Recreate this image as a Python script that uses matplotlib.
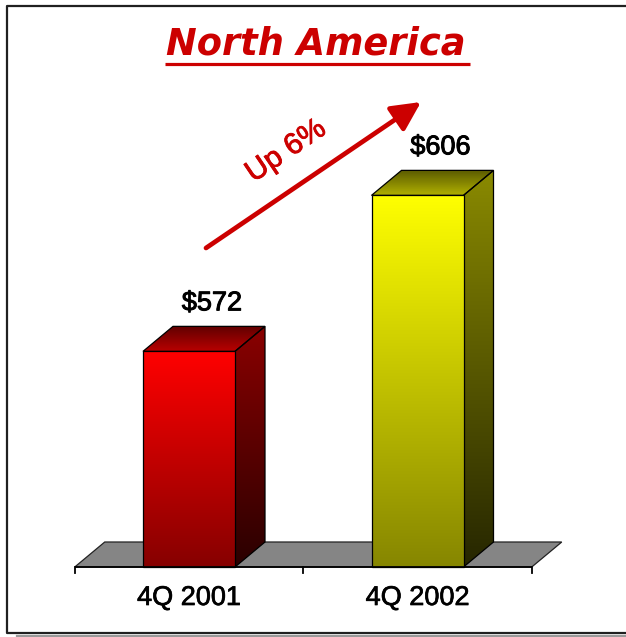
import numpy as np
import matplotlib.pyplot as plt
import matplotlib.patheffects as pe
from matplotlib.patches import Polygon
from matplotlib.colors import LinearSegmentedColormap

categories = ["4Q 2001", "4Q 2002"]
values = [572, 606]
value_labels = ["$572", "$606"]
growth_label = "Up 6%"
title = "North America"

# colours per bar: front (top, bottom), side (top, bottom), top face (front, back)
front_cols = [("#ff0000", "#860000"), ("#ffff00", "#868600")]
side_cols = [("#8a0000", "#2a0000"), ("#8a8a00", "#262600")]
top_cols = [("#b80000", "#600000"), ("#b0b000", "#5a5a00")]

baseline = 525  # value axis does not start at zero
W, H = 626, 637

fig = plt.figure(figsize=(W / 100, H / 100), dpi=100)
ax = fig.add_axes([0, 0, 1, 1])

# pixel <-> data mapping of the original picture
x_px0, x_step = 189, 228.5
y_px0, y_scale = 567, 4.588


def to_data(px, py):
    return (px - x_px0) / x_step, baseline + (y_px0 - py) / y_scale


xa, ya = to_data(0, 0)
xb, yb = to_data(W, H)
ax.set_xlim(xa, xb)
ax.set_ylim(yb, ya)
ax.axis("off")

bar_w = 92 / x_step
dx = 30 / x_step
dy = 25 / y_scale
heavy = [pe.withStroke(linewidth=0.7, foreground="black")]


def grad_poly(verts, c_low, c_high, z):
    # vertical gradient clipped to a polygon
    poly = Polygon(verts, closed=True, facecolor="none", edgecolor="black", lw=0.9, zorder=z + 1)
    ax.add_patch(poly)
    xs = [v[0] for v in verts]
    ys = [v[1] for v in verts]
    cmap = LinearSegmentedColormap.from_list("g", [c_low, c_high])
    im = ax.imshow(np.linspace(0, 1, 256).reshape(-1, 1), cmap=cmap, origin="lower",
                   extent=(min(xs), max(xs), min(ys), max(ys)), aspect="auto",
                   interpolation="bilinear", zorder=z)
    im.set_clip_path(poly)


n = len(categories)
xpos = np.arange(n)

# floor
left, right = -0.5, n - 0.5
floor = Polygon([(left, baseline), (right, baseline), (right + dx, baseline + dy), (left + dx, baseline + dy)],
                closed=True, facecolor="#858585", edgecolor="#222222", lw=0.9, zorder=1)
ax.add_patch(floor)

for i, v in enumerate(values):
    x0 = xpos[i] - bar_w / 2
    x1 = xpos[i] + bar_w / 2
    # side
    grad_poly([(x1, baseline), (x1 + dx, baseline + dy), (x1 + dx, v + dy), (x1, v)],
              side_cols[i][1], side_cols[i][0], 3)
    # top
    grad_poly([(x0, v), (x1, v), (x1 + dx, v + dy), (x0 + dx, v + dy)],
              top_cols[i][0], top_cols[i][1], 3)
    # front
    grad_poly([(x0, baseline), (x1, baseline), (x1, v), (x0, v)],
              front_cols[i][1], front_cols[i][0], 5)
    ax.text(xpos[i] + 23 / x_step, v + dy + 23 / y_scale, value_labels[i],
            ha="center", va="center", fontsize=19.5, family="Liberation Sans", color="black",
            zorder=8, path_effects=heavy)
    ax.text(xpos[i], to_data(0, 598)[1], categories[i], ha="center", va="center",
            fontsize=19.5, family="Liberation Sans", color="black", zorder=8,
            path_effects=[pe.withStroke(linewidth=0.5, foreground="black")])

# category axis and ticks
ax.plot([left, right], [baseline, baseline], color="black", lw=1.3, zorder=7, solid_capstyle="butt")
tick_len = 6 / y_scale
for t in np.arange(left, right + 0.01, 1.0):
    ax.plot([t, t], [baseline, baseline - tick_len], color="black", lw=1.3, zorder=7)

# growth arrow
ax.annotate("", xy=to_data(421, 102), xytext=to_data(206, 248),
            arrowprops=dict(arrowstyle="-|>,head_length=1.1,head_width=0.55", lw=3.4,
                            color="#cc0000", mutation_scale=16, shrinkA=0, shrinkB=0), zorder=9)
tx, ty = to_data(286, 151)
ax.text(tx, ty, growth_label, rotation=34, ha="center", va="center", fontsize=21.5,
        family="Liberation Sans", color="#cc0000", zorder=9,
        path_effects=[pe.withStroke(linewidth=0.6, foreground="#cc0000")])

# title with underline
ttx, tty = to_data(316, 54)
ax.text(ttx, tty, title, ha="center", va="baseline", fontsize=26.5, family="DejaVu Sans",
        weight="bold", style="italic", color="#cc0000", zorder=9)
ux0, uy = to_data(165, 64)
ux1, _ = to_data(470, 64)
ax.plot([ux0, ux1], [uy, uy], color="#cc0000", lw=2.3, solid_capstyle="butt", zorder=9)

# frame with shadow
fl, ft = to_data(7, 6)
fr, fb = to_data(W + 5, 633)
sx, sb = to_data(17, 636)
ax.plot([sx, fr], [sb, sb], color="#9a9a9a", lw=1.6, clip_on=False, zorder=10)
ax.plot([fr, fl, fl, fr], [ft, ft, fb, fb], color="#202020", lw=1.6, clip_on=False, zorder=11)

fig.savefig("out.png", dpi=100)
